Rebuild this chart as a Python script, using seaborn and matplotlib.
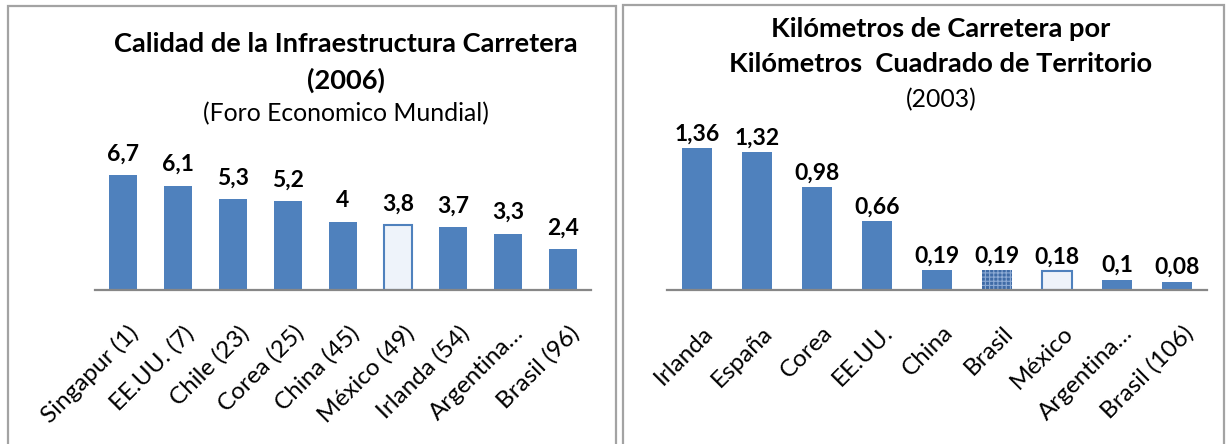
import matplotlib
matplotlib.use('Agg')
import matplotlib.pyplot as plt
import seaborn as sns
import pandas as pd
from matplotlib.patches import Rectangle
from matplotlib.transforms import offset_copy

# ---- data ----
left_categories = ["Singapur (1)", "EE.UU. (7)", "Chile (23)", "Corea (25)", "China (45)",
                   "México (49)", "Irlanda (54)", "Argentina…", "Brasil (96)"]
left_values = [6.7, 6.1, 5.3, 5.2, 4, 3.8, 3.7, 3.3, 2.4]
right_categories = ["Irlanda", "España", "Corea", "EE.UU.", "China", "Brasil",
                    "México", "Argentina…", "Brasil (106)"]
right_values = [1.36, 1.32, 0.98, 0.66, 0.19, 0.19, 0.18, 0.1, 0.08]
left_title = ["Calidad de la Infraestructura Carretera", "(2006)", "(Foro Economico Mundial)"]
right_title = ["Kilómetros de Carretera por", "Kilómetros  Cuadrado de Territorio", "(2003)"]

BLUE = "#4F81BD"
sns.set_theme(style="white")
plt.rcParams['font.family'] = ['Lato', 'DejaVu Sans']
plt.rcParams['hatch.linewidth'] = 0.8

W, H = 1230, 444
fig = plt.figure(figsize=(W / 100, H / 100), dpi=100)
fig.patch.set_facecolor("white")


def px_axes(x0, x1, ytop, ybot):
    return fig.add_axes([x0 / W, 1 - ybot / H, (x1 - x0) / W, (ybot - ytop) / H])


def fmt(v):
    return f"{v:g}".replace(".", ",")


def draw(ax, cats, vals, ymax, label_off_px):
    df = pd.DataFrame({"cat": cats, "val": vals})
    sns.barplot(data=df, x="cat", y="val", order=cats, color=BLUE, saturation=1,
                width=0.51, ax=ax, linewidth=0, edgecolor="none")
    ax.set_ylim(0, ymax)
    ax.set_xlim(-0.5, len(cats) - 0.5)
    for s in ["left", "top", "right"]:
        ax.spines[s].set_visible(False)
    ax.spines["bottom"].set_color("#878787")
    ax.spines["bottom"].set_linewidth(1.6)
    ax.set_yticks([])
    ax.set_xticks([])
    ax.set_xlabel("")
    ax.set_ylabel("")
    ax.set_facecolor("none")
    for p, v in zip(ax.patches, vals):
        ax.annotate(fmt(v), xy=(p.get_x() + p.get_width() / 2, v),
                    xytext=(0, label_off_px * 0.72), textcoords="offset points",
                    ha="center", va="center", fontsize=16.5, fontweight="bold",
                    color="black", annotation_clip=False)
    trans = offset_copy(ax.get_xaxis_transform(), fig=fig, x=5 * 0.72, y=-32 * 0.72,
                        units="points")
    for i, c in enumerate(cats):
        ax.text(i, 0, c, transform=trans, rotation=45, rotation_mode="anchor",
                ha="right", va="top", fontsize=17.5, color="black")


axL = px_axes(95, 591, 153.2, 290)
draw(axL, left_categories, left_values, 8, 21)
pm = axL.patches[5]
pm.set_facecolor("#EEF3FA")
pm.set_edgecolor(BLUE)
pm.set_linewidth(1.5)

axR = px_axes(667, 1207, 122.6, 290)
draw(axR, right_categories, right_values, 1.6, 14)
pb = axR.patches[5]
pb.set_facecolor("#3F6BA6")
pb.set_hatch("++++")
pb.set_edgecolor("#8CAAD4")
pb.set_linewidth(0)
pm2 = axR.patches[6]
pm2.set_facecolor("#EEF3FA")
pm2.set_edgecolor(BLUE)
pm2.set_linewidth(1.5)

# ---- titles ----
r = fig.canvas.get_renderer()


def ftext(x, y, s, weight, size):
    return fig.text(x / W, 1 - y / H, s, ha="center", va="center", fontsize=size,
                    fontweight=weight, color="black")


tL1 = ftext(346, 43.5, left_title[0], "bold", 18)
w = tL1.get_window_extent(r).width
bold_size = 18 * 467 / w
tL1.set_fontsize(bold_size)
tL3 = ftext(346, 113.5, left_title[2], "normal", 17)
w = tL3.get_window_extent(r).width
reg_size = 17 * 286 / w
tL3.set_fontsize(reg_size)
ftext(346, 80, left_title[1], "bold", bold_size)

ftext(941, 29, right_title[0], "bold", bold_size)
ftext(941, 64, right_title[1], "bold", bold_size)
ftext(941, 100, right_title[2], "normal", reg_size)

# ---- panel borders ----
for x0, x1, y0 in [(8, 616, 6), (623, 1224, 5)]:
    fig.add_artist(Rectangle((x0 / W, -0.05), (x1 - x0) / W, 1 - y0 / H + 0.05,
                             transform=fig.transFigure, fill=False,
                             edgecolor="#a3a3a3", linewidth=1.6))

fig.savefig("out.png", dpi=100, facecolor="white")
